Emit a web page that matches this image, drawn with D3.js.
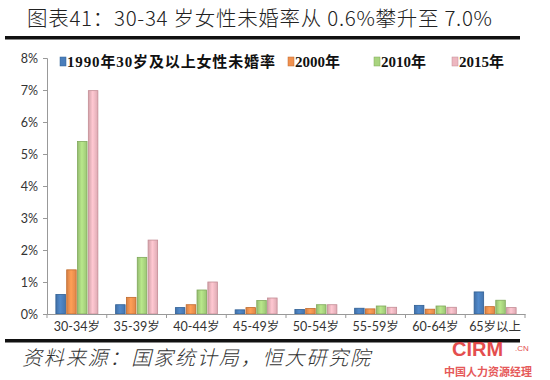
<!DOCTYPE html>
<html><head><meta charset="utf-8">
<script src="https://cdn.jsdelivr.net/npm/d3@7"></script>
<style>body{margin:0;background:#fff}svg{display:block}</style>
</head><body>
<script>
const categories = ["30-34岁","35-39岁","40-44岁","45-49岁","50-54岁","55-59岁","60-64岁","65岁以上"];
const seriesNames = ["1990年30岁及以上女性未婚率","2000年","2010年","2015年"];
const s1990 = [0.61,0.29,0.20,0.13,0.14,0.18,0.27,0.69];
const s2000 = [1.38,0.52,0.29,0.20,0.17,0.16,0.15,0.23];
const s2010 = [5.39,1.77,0.75,0.42,0.29,0.25,0.25,0.43];
const s2015 = [6.98,2.31,1.00,0.50,0.29,0.21,0.21,0.20];
const yTicks = [0,1,2,3,4,5,6,7,8];
const colors = ["#4a7ebb","#f0914f","#a9d47f","#edb7c0"];
const strokes = ["#2f5f94","#c06a2c","#7fa85a","#c48c95"];
const series = [s1990,s2000,s2010,s2015];

const W=550,H=380;
const svg=d3.select("body").append("svg").attr("width",W).attr("height",H);
const defs=svg.append("defs");
colors.forEach((c,i)=>{
  const g=defs.append("linearGradient").attr("id","g"+i).attr("x1","0").attr("x2","1").attr("y1","0").attr("y2","0");
  g.append("stop").attr("offset","0").attr("stop-color",d3.color(c).darker(0.35));
  g.append("stop").attr("offset","0.45").attr("stop-color",d3.color(c).brighter(0.25));
  g.append("stop").attr("offset","1").attr("stop-color",d3.color(c).darker(0.2));
});

// title
svg.append("text").attr("x",27).attr("y",26)
  .attr("font-family","'Noto Sans CJK SC'").attr("font-weight",300).attr("font-size",20.5).attr("fill","#222")
  .attr("textLength",465).attr("lengthAdjust","spacing")
  .text("图表41：30-34 岁女性未婚率从 0.6%攀升至 7.0%");
svg.append("rect").attr("x",5).attr("y",36).attr("width",515).attr("height",3.5).attr("fill","#111");
svg.append("rect").attr("x",5).attr("y",339).attr("width",515).attr("height",3.5).attr("fill","#111");
svg.append("text").attr("x",22).attr("y",365)
  .attr("font-family","'Noto Sans CJK SC'").attr("font-weight",300).attr("font-style","italic").attr("font-size",20).attr("fill","#333")
  .attr("textLength",348).attr("lengthAdjust","spacing")
  .text("资料来源：国家统计局，恒大研究院");

const x=d3.scaleBand().domain(categories).range([47,525]).padding(0);
const inner=d3.scaleBand().domain(d3.range(4)).range([(x.bandwidth()-42)/2,(x.bandwidth()+42)/2]).paddingInner(0.12);
const y=d3.scaleLinear().domain([0,8]).range([314,58]);

// y axis
const ya=svg.append("g").attr("transform","translate(47,0)")
  .call(d3.axisLeft(y).tickValues(yTicks).tickFormat(d=>d+"%").tickSize(4).tickPadding(5));
ya.select(".domain").attr("stroke","#999");
ya.selectAll(".tick line").attr("stroke","#999");
ya.selectAll("text").attr("font-family","Lato, 'Liberation Sans'").attr("font-size",12.5).attr("fill","#333");

// bars
const groups=svg.append("g").selectAll("g").data(categories).join("g")
  .attr("transform",d=>`translate(${x(d)},0)`);
series.forEach((s,i)=>{
  groups.append("rect")
    .attr("x",inner(i)).attr("width",inner.bandwidth())
    .attr("y",(d,j)=>y(s[j])).attr("height",(d,j)=>314-y(s[j]))
    .attr("fill",`url(#g${i})`).attr("stroke",strokes[i]).attr("stroke-width",0.8);
});

// x axis
const xa=svg.append("g").attr("transform","translate(0,314)")
  .call(d3.axisBottom(x).tickSize(0).tickPadding(8));
xa.select(".domain").attr("stroke","#999");
xa.selectAll("text").attr("font-family","Lato, 'Noto Sans CJK SC'").attr("font-size",12.5).attr("fill","#333");
svg.append("g").selectAll("line").data(d3.range(9)).join("line")
  .attr("x1",i=>47+i*x.bandwidth()).attr("x2",i=>47+i*x.bandwidth())
  .attr("y1",314).attr("y2",318).attr("stroke","#999");

// legend
const legX=[60,288,374,452];
const leg=svg.append("g").selectAll("g").data(seriesNames).join("g")
  .attr("transform",(d,i)=>`translate(${legX[i]},62)`);
leg.append("rect").attr("x",0).attr("y",-5).attr("width",6).attr("height",9)
  .attr("fill",(d,i)=>colors[i]).attr("stroke",(d,i)=>strokes[i]).attr("stroke-width",0.5);
leg.append("text").attr("x",7).attr("y",5)
  .attr("font-family","'Liberation Serif','Noto Sans CJK SC'").attr("font-weight","bold").attr("font-size",15).attr("fill","#111")
  .each(function(d,i){ if(i===0) d3.select(this).attr("textLength",208).attr("lengthAdjust","spacing"); })
  .text(d=>d);

// watermark
svg.append("text").attr("x",452).attr("y",356).attr("font-family","'Liberation Sans'").attr("font-weight","bold")
  .attr("font-size",20).attr("fill","#e03030").attr("opacity",0.85).text("CIRM");
svg.append("text").attr("x",515).attr("y",351).attr("font-family","'Liberation Sans'").attr("font-size",8)
  .attr("fill","#e03030").attr("opacity",0.85).text(".CN");
svg.append("text").attr("x",444).attr("y",376).attr("font-family","'Noto Sans CJK SC'").attr("font-weight","bold")
  .attr("font-size",11).attr("fill","#e03030").attr("opacity",0.8).text("中国人力资源经理");
</script>
</body></html>
